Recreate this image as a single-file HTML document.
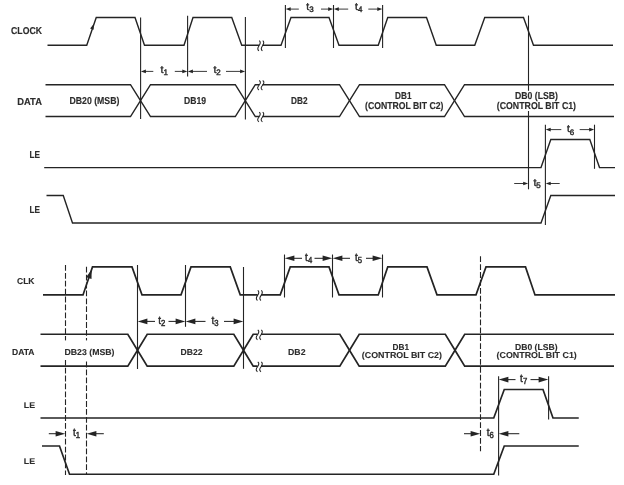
<!DOCTYPE html>
<html lang="en">
<head>
<meta charset="utf-8">
<title>Serial interface timing diagrams</title>
<style>
html, body { margin: 0; padding: 0; background: #ffffff; }
body { width: 624px; height: 485px; overflow: hidden; }
svg { display: block; }
.w, .m { fill: none; stroke: #242424; stroke-linejoin: miter; }
.h { fill: #242424; }
.k { fill: #ffffff; }
text { font-family: "Liberation Sans", Arial, Helvetica, sans-serif; fill: #2c2c2c; stroke: #2c2c2c; text-rendering: geometricPrecision; }
text.b { font-weight: bold; stroke-width: 0.15px; }
text.r { font-weight: normal; stroke-width: 0.4px; }
#bottom text.b { stroke-width: 0.12px; }
</style>
</head>
<body>
<svg width="624" height="485" viewBox="0 0 624 485">
<defs>
<filter id="soft" x="0" y="0" width="624" height="485" filterUnits="userSpaceOnUse" color-interpolation-filters="sRGB">
<feGaussianBlur stdDeviation="0.38"/>
</filter>
</defs>
<rect x="0" y="0" width="624" height="485" fill="#ffffff"/>
<g filter="url(#soft)">
<g id="top">
<polyline class="w" points="47.5,45.3 86.75,45.3 96.25,17.5 135,17.5 144.5,45.3 184,45.3 193,17.5 231.75,17.5 241.75,45.3 259,45.3" stroke-width="1.4"/>
<polyline class="w" points="262.5,45.3 281,45.3 291,17.5 329,17.5 339,45.3 378.25,45.3 387.75,17.5 426.5,17.5 436.25,45.3 474.75,45.3 484.75,17.5 523.5,17.5 533.5,45.3 613,45.3" stroke-width="1.4"/>
<path class="m" d="M259.2,40.7 C263.6,44.1 254.4,47.5 258.9,50.9" stroke-width="1.05"/>
<path class="m" d="M262.7,40.7 C267.1,44.1 257.9,47.5 262.4,50.9" stroke-width="1.05"/>
<polygon class="h" points="93.7,23.9 93.7,29.7 90.1,28.5"/>
<polyline class="w" points="45.5,84.75 130.5,84.75 140.5,100.625" stroke-width="1.4"/>
<polyline class="w" points="140.5,100.625 150.5,84.75 235.3,84.75 245.3,100.625" stroke-width="1.4"/>
<polyline class="w" points="245.3,100.625 255.3,84.75 259,84.75" stroke-width="1.4"/>
<polyline class="w" points="262.5,84.75 339.5,84.75 349.5,100.625" stroke-width="1.4"/>
<polyline class="w" points="349.5,100.625 359.5,84.75 444.5,84.75 454.5,100.625" stroke-width="1.4"/>
<polyline class="w" points="454.5,100.625 464.5,84.75 614,84.75" stroke-width="1.4"/>
<polyline class="w" points="45.5,116.5 130.5,116.5 140.5,100.625" stroke-width="1.4"/>
<polyline class="w" points="140.5,100.625 150.5,116.5 235.3,116.5 245.3,100.625" stroke-width="1.4"/>
<polyline class="w" points="245.3,100.625 255.3,116.5 259,116.5" stroke-width="1.4"/>
<polyline class="w" points="262.5,116.5 339.5,116.5 349.5,100.625" stroke-width="1.4"/>
<polyline class="w" points="349.5,100.625 359.5,116.5 444.5,116.5 454.5,100.625" stroke-width="1.4"/>
<polyline class="w" points="454.5,100.625 464.5,116.5 614,116.5" stroke-width="1.4"/>
<path class="m" d="M259.2,80.55 C263.6,83.55 254.4,86.95 258.9,89.95" stroke-width="1.05"/>
<path class="m" d="M262.7,80.55 C267.1,83.55 257.9,86.95 262.4,89.95" stroke-width="1.05"/>
<path class="m" d="M259.2,112.1 C263.6,115.3 254.4,118.7 258.9,121.9" stroke-width="1.05"/>
<path class="m" d="M262.7,112.1 C267.1,115.3 257.9,118.7 262.4,121.9" stroke-width="1.05"/>
<line class="m" x1="140.6" y1="17.5" x2="140.6" y2="119" stroke-width="1.1"/>
<line class="m" x1="187.6" y1="15.7" x2="187.6" y2="76.6" stroke-width="1.1"/>
<line class="m" x1="245.4" y1="17" x2="245.4" y2="119.4" stroke-width="1.1"/>
<line class="m" x1="285.4" y1="5" x2="285.4" y2="48" stroke-width="1.1"/>
<line class="m" x1="333.5" y1="5" x2="333.5" y2="48" stroke-width="1.1"/>
<line class="m" x1="382.6" y1="5" x2="382.6" y2="48" stroke-width="1.1"/>
<line class="m" x1="528.5" y1="15.5" x2="528.5" y2="189.3" stroke-width="1.1"/>
<line class="m" x1="545.4" y1="124.7" x2="545.4" y2="225" stroke-width="1.1"/>
<line class="m" x1="594.5" y1="124.7" x2="594.5" y2="168.8" stroke-width="1.1"/>
<line class="m" x1="144.4" y1="71.4" x2="153.3" y2="71.4" stroke-width="0.9"/>
<polygon class="h" points="140.9,71.4 145.9,69.6 145.9,73.2"/>
<line class="m" x1="183.8" y1="71.4" x2="174.8" y2="71.4" stroke-width="0.9"/>
<polygon class="h" points="187.3,71.4 182.3,69.6 182.3,73.2"/>
<line class="m" x1="191.4" y1="71.4" x2="207" y2="71.4" stroke-width="0.9"/>
<polygon class="h" points="187.9,71.4 192.9,69.6 192.9,73.2"/>
<line class="m" x1="241.6" y1="71.4" x2="226" y2="71.4" stroke-width="0.9"/>
<polygon class="h" points="245.1,71.4 240.1,69.6 240.1,73.2"/>
<text class="r" transform="translate(160.6 72.8) scale(1.0500 1.0500)" font-size="10">t<tspan font-size="7.62" dy="2">1</tspan></text>
<text class="r" transform="translate(213.4 72.8) scale(1.0500 1.0500)" font-size="10">t<tspan font-size="7.62" dy="2">2</tspan></text>
<line class="m" x1="289.2" y1="9.1" x2="298.8" y2="9.1" stroke-width="0.9"/>
<polygon class="h" points="285.7,9.1 290.7,7.3 290.7,10.9"/>
<line class="m" x1="329.7" y1="9.1" x2="321" y2="9.1" stroke-width="0.9"/>
<polygon class="h" points="333.2,9.1 328.2,7.3 328.2,10.9"/>
<line class="m" x1="337.3" y1="9.1" x2="348.2" y2="9.1" stroke-width="0.9"/>
<polygon class="h" points="333.8,9.1 338.8,7.3 338.8,10.9"/>
<line class="m" x1="378.8" y1="9.1" x2="368.3" y2="9.1" stroke-width="0.9"/>
<polygon class="h" points="382.3,9.1 377.3,7.3 377.3,10.9"/>
<text class="r" transform="translate(306.3 9.9) scale(1.0500 1.0500)" font-size="10">t<tspan font-size="7.62" dy="2.29">3</tspan></text>
<text class="r" transform="translate(355.1 10.2) scale(1.0500 1.0500)" font-size="10">t<tspan font-size="7.62" dy="2">4</tspan></text>
<line class="m" x1="549.2" y1="129.6" x2="561.3" y2="129.6" stroke-width="0.9"/>
<polygon class="h" points="545.7,129.6 550.7,127.8 550.7,131.4"/>
<line class="m" x1="590.7" y1="129.6" x2="579.7" y2="129.6" stroke-width="0.9"/>
<polygon class="h" points="594.2,129.6 589.2,127.8 589.2,131.4"/>
<text class="r" transform="translate(566.9 131.85) scale(1.0500 1.0500)" font-size="10">t<tspan font-size="7.62" dy="2.67">6</tspan></text>
<line class="m" x1="524.7" y1="183.5" x2="514.2" y2="183.5" stroke-width="0.9"/>
<polygon class="h" points="528.2,183.5 523.2,181.7 523.2,185.3"/>
<line class="m" x1="549.2" y1="183.5" x2="559.7" y2="183.5" stroke-width="0.9"/>
<polygon class="h" points="545.7,183.5 550.7,181.7 550.7,185.3"/>
<text class="r" transform="translate(533.4 185.6) scale(1.0500 1.0500)" font-size="10">t<tspan font-size="7.62" dy="1.9">5</tspan></text>
<polyline class="w" points="44.2,167.6 541,167.6 550.8,139.5 589.8,139.5 599.5,167.6 615,167.6" stroke-width="1.4"/>
<polyline class="w" points="46.5,195.5 63.25,195.5 72.5,223 541,223 550.8,195.5 615,195.5" stroke-width="1.4"/>
<rect class="k" x="496" y="90.8" width="81" height="20.2"/>
<text class="b" transform="translate(11.1 34) scale(0.8663 1.0029)" font-size="10">CLOCK</text>
<text class="b" transform="translate(17.3 105) scale(0.9358 1.0029)" font-size="10">DATA</text>
<text class="b" transform="translate(29.5 158) scale(0.8216 1.0029)" font-size="10">LE</text>
<text class="b" transform="translate(29.5 213) scale(0.8216 1.0029)" font-size="10">LE</text>
<text class="b" transform="translate(69.4 104.3) scale(0.8737 1.0029)" font-size="10">DB20 (MSB)</text>
<text class="b" transform="translate(184 104.3) scale(0.8605 1.0029)" font-size="10">DB19</text>
<text class="b" transform="translate(291 104.3) scale(0.8248 1.0029)" font-size="10">DB2</text>
<text class="b" transform="translate(395.1 99.3) scale(0.8198 1.0029)" font-size="10">DB1</text>
<text class="b" transform="translate(365 109.1) scale(0.8676 1.0029)" font-size="10">(CONTROL BIT C2)</text>
<text class="b" transform="translate(515 99.3) scale(0.8697 1.0029)" font-size="10">DB0 (LSB)</text>
<text class="b" transform="translate(496.8 109.1) scale(0.8764 1.0029)" font-size="10">(CONTROL BIT C1)</text>
</g>
<g id="bottom">
<polyline class="w" points="43,294.9 83,294.9 92.5,266.9 132,266.9 142,294.9 181,294.9 191,266.9 230.25,266.9 240.25,294.9 257.6,294.9" stroke-width="1.7"/>
<polyline class="w" points="261,294.9 280.25,294.9 290.25,266.9 329,266.9 339,294.9 378.25,294.9 387.75,266.9 427,266.9 437,294.9 476,294.9 486,266.9 525.5,266.9 535,294.9 615,294.9" stroke-width="1.7"/>
<path class="m" d="M257.75,290.3 C262.15,293.7 252.95,297.1 257.45,300.5" stroke-width="1.05"/>
<path class="m" d="M261.25,290.3 C265.65,293.7 256.45,297.1 260.95,300.5" stroke-width="1.05"/>
<polygon class="h" points="91.7,269.6 91.5,279 86.1,277.2"/>
<polyline class="w" points="40.5,334.25 127.8,334.25 137.5,350.225" stroke-width="1.7"/>
<polyline class="w" points="137.5,350.225 147.2,334.25 233.8,334.25 243.5,350.225" stroke-width="1.7"/>
<polyline class="w" points="243.5,350.225 253.2,334.25 257.6,334.25" stroke-width="1.7"/>
<polyline class="w" points="261,334.25 339.8,334.25 349.5,350.225" stroke-width="1.7"/>
<polyline class="w" points="349.5,350.225 359.2,334.25 445.3,334.25 455,350.225" stroke-width="1.7"/>
<polyline class="w" points="455,350.225 464.7,334.25 614,334.25" stroke-width="1.7"/>
<polyline class="w" points="40.5,366.2 127.8,366.2 137.5,350.225" stroke-width="1.7"/>
<polyline class="w" points="137.5,350.225 147.2,366.2 233.8,366.2 243.5,350.225" stroke-width="1.7"/>
<polyline class="w" points="243.5,350.225 253.2,366.2 257.6,366.2" stroke-width="1.7"/>
<polyline class="w" points="261,366.2 339.8,366.2 349.5,350.225" stroke-width="1.7"/>
<polyline class="w" points="349.5,350.225 359.2,366.2 445.3,366.2 455,350.225" stroke-width="1.7"/>
<polyline class="w" points="455,350.225 464.7,366.2 614,366.2" stroke-width="1.7"/>
<path class="m" d="M257.75,329.9 C262.15,333.1 252.95,336.5 257.45,339.7" stroke-width="1.05"/>
<path class="m" d="M261.25,329.9 C265.65,333.1 256.45,336.5 260.95,339.7" stroke-width="1.05"/>
<path class="m" d="M257.75,361.9 C262.15,365.1 252.95,368.5 257.45,371.7" stroke-width="1.05"/>
<path class="m" d="M261.25,361.9 C265.65,365.1 256.45,368.5 260.95,371.7" stroke-width="1.05"/>
<line class="m" x1="65.5" y1="265" x2="65.5" y2="475" stroke-width="1.1" stroke-dasharray="5.8 2.1"/>
<line class="m" x1="86.5" y1="266.8" x2="86.5" y2="475" stroke-width="1.1" stroke-dasharray="5.8 2.1"/>
<line class="m" x1="137.5" y1="265" x2="137.5" y2="369" stroke-width="1.1"/>
<line class="m" x1="185.5" y1="265" x2="185.5" y2="326.8" stroke-width="1.1"/>
<line class="m" x1="243.5" y1="267" x2="243.5" y2="368.8" stroke-width="1.1"/>
<line class="m" x1="284.5" y1="254.5" x2="284.5" y2="297.5" stroke-width="1.1"/>
<line class="m" x1="332.5" y1="254.5" x2="332.5" y2="297.5" stroke-width="1.1"/>
<line class="m" x1="382.5" y1="254.5" x2="382.5" y2="297.5" stroke-width="1.1"/>
<line class="m" x1="480.5" y1="256.3" x2="480.5" y2="451.3" stroke-width="1.1" stroke-dasharray="5.8 2.1"/>
<line class="m" x1="498.6" y1="376.3" x2="498.6" y2="475.5" stroke-width="1.1"/>
<line class="m" x1="548.6" y1="376.3" x2="548.6" y2="419.5" stroke-width="1.1"/>
<line class="m" x1="144.49" y1="321.4" x2="155" y2="321.4" stroke-width="1.05"/>
<polygon class="h" points="137.7,321.4 147.4,318.6 147.4,324.2"/>
<line class="m" x1="178.51" y1="321.4" x2="168.5" y2="321.4" stroke-width="1.05"/>
<polygon class="h" points="185.3,321.4 175.6,318.6 175.6,324.2"/>
<line class="m" x1="192.49" y1="321.4" x2="205.5" y2="321.4" stroke-width="1.05"/>
<polygon class="h" points="185.7,321.4 195.4,318.6 195.4,324.2"/>
<line class="m" x1="236.51" y1="321.4" x2="224" y2="321.4" stroke-width="1.05"/>
<polygon class="h" points="243.3,321.4 233.6,318.6 233.6,324.2"/>
<text class="r" transform="translate(158.2 324) scale(1.0032 1.1400)" font-size="10">t<tspan font-size="7.72" dy="1.49">2</tspan></text>
<text class="r" transform="translate(211.4 324) scale(1.0032 1.1400)" font-size="10">t<tspan font-size="7.72" dy="1.49">3</tspan></text>
<line class="m" x1="291.49" y1="258.3" x2="302" y2="258.3" stroke-width="1.05"/>
<polygon class="h" points="284.7,258.3 294.4,255.5 294.4,261.1"/>
<line class="m" x1="325.51" y1="258.3" x2="314.5" y2="258.3" stroke-width="1.05"/>
<polygon class="h" points="332.3,258.3 322.6,255.5 322.6,261.1"/>
<line class="m" x1="339.49" y1="258.3" x2="350" y2="258.3" stroke-width="1.05"/>
<polygon class="h" points="332.7,258.3 342.4,255.5 342.4,261.1"/>
<line class="m" x1="375.51" y1="258.3" x2="366" y2="258.3" stroke-width="1.05"/>
<polygon class="h" points="382.3,258.3 372.6,255.5 372.6,261.1"/>
<text class="r" transform="translate(305.1 260.9) scale(1.0032 1.1400)" font-size="10">t<tspan font-size="7.72" dy="1.49">4</tspan></text>
<text class="r" transform="translate(354.9 260.9) scale(1.0032 1.1400)" font-size="10">t<tspan font-size="7.72" dy="1.49">5</tspan></text>
<line class="m" x1="58.51" y1="433.7" x2="48.8" y2="433.7" stroke-width="1.05"/>
<polygon class="h" points="65.3,433.7 55.6,430.9 55.6,436.5"/>
<line class="m" x1="93.49" y1="433.7" x2="103.8" y2="433.7" stroke-width="1.05"/>
<polygon class="h" points="86.7,433.7 96.4,430.9 96.4,436.5"/>
<text class="r" transform="translate(73 436.3) scale(1.0032 1.1400)" font-size="10">t<tspan font-size="7.72" dy="1.49">1</tspan></text>
<line class="m" x1="473.51" y1="433.7" x2="464" y2="433.7" stroke-width="1.05"/>
<polygon class="h" points="480.3,433.7 470.6,430.9 470.6,436.5"/>
<line class="m" x1="505.49" y1="433.7" x2="519.3" y2="433.7" stroke-width="1.05"/>
<polygon class="h" points="498.7,433.7 508.4,430.9 508.4,436.5"/>
<text class="r" transform="translate(486.8 436.3) scale(1.0032 1.1400)" font-size="10">t<tspan font-size="7.72" dy="1.49">6</tspan></text>
<line class="m" x1="505.49" y1="379.6" x2="515.5" y2="379.6" stroke-width="1.05"/>
<polygon class="h" points="498.7,379.6 508.4,376.8 508.4,382.4"/>
<line class="m" x1="541.51" y1="379.6" x2="530.5" y2="379.6" stroke-width="1.05"/>
<polygon class="h" points="548.3,379.6 538.6,376.8 538.6,382.4"/>
<text class="r" transform="translate(520.1 382.2) scale(1.0032 1.1400)" font-size="10">t<tspan font-size="7.72" dy="1.49">7</tspan></text>
<polyline class="w" points="40.5,418 493.75,418 504.25,389.5 543,389.5 553,418 578.75,418" stroke-width="1.7"/>
<polyline class="w" points="42,446 59.5,446 69.5,474.25 493.75,474.25 504.25,446 578.75,446" stroke-width="1.7"/>
<rect class="k" x="63" y="340.4" width="53" height="19.6"/>
<text class="b" transform="translate(17 283.8) scale(0.8515 0.8576)" font-size="10">CLK</text>
<text class="b" transform="translate(12 355) scale(0.8559 0.8576)" font-size="10">DATA</text>
<text class="b" transform="translate(23.8 408) scale(0.8764 0.8140)" font-size="10">LE</text>
<text class="b" transform="translate(23.8 464) scale(0.8764 0.8140)" font-size="10">LE</text>
<text class="b" transform="translate(64.5 354.5) scale(0.8737 0.8576)" font-size="10">DB23 (MSB)</text>
<text class="b" transform="translate(180.5 354.5) scale(0.8605 0.8576)" font-size="10">DB22</text>
<text class="b" transform="translate(288 354.5) scale(0.8747 0.8576)" font-size="10">DB2</text>
<text class="b" transform="translate(392.5 349.6) scale(0.8248 0.8576)" font-size="10">DB1</text>
<text class="b" transform="translate(361.8 358) scale(0.8875 0.8576)" font-size="10">(CONTROL BIT C2)</text>
<text class="b" transform="translate(515 349.6) scale(0.8596 0.8576)" font-size="10">DB0 (LSB)</text>
<text class="b" transform="translate(496.6 358) scale(0.8875 0.8576)" font-size="10">(CONTROL BIT C1)</text>
</g>
</g>
</svg>
</body>
</html>
